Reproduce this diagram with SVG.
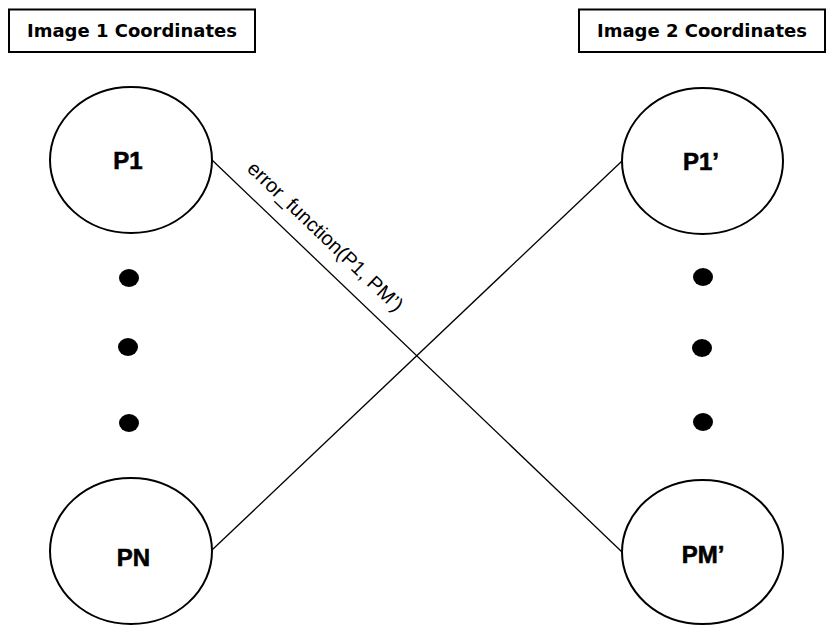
<svg xmlns="http://www.w3.org/2000/svg" width="829" height="635" viewBox="0 0 829 635">
<style>
.box{fill:#fff;stroke:#000;stroke-width:2}
.hdr{font-family:"DejaVu Sans","Liberation Sans",sans-serif;font-weight:bold;font-size:18px;fill:#000}
.node{fill:#fff;stroke:#000;stroke-width:2}
.lbl{font-family:"Liberation Sans",Arial,sans-serif;font-weight:bold;font-size:24px;fill:#000;text-anchor:middle;stroke:#000;stroke-width:0.6}
.dot{fill:#000}
.edge{stroke:#000;stroke-width:1.3;fill:none}
.elbl{font-family:"Liberation Sans",Arial,sans-serif;font-size:20px;fill:#000;text-anchor:middle}
</style>
<rect width="829" height="635" fill="#fff"/>
<g id="header1"><rect class="box" x="9" y="9.5" width="246" height="42.5"/><text class="hdr" x="27" y="37" textLength="210" lengthAdjust="spacingAndGlyphs">Image 1 Coordinates</text></g>
<g id="header2"><rect class="box" x="579" y="9.5" width="246" height="42.5"/><text class="hdr" x="597" y="37" textLength="210" lengthAdjust="spacingAndGlyphs">Image 2 Coordinates</text></g>
<g id="connectors">
<line class="edge" x1="212" y1="160" x2="622" y2="552"/>
<line class="edge" x1="212" y1="550" x2="622" y2="161"/>
<text class="elbl" transform="translate(325,237) rotate(43.7)" y="6">error_function(P1, PM’)</text>
</g>
<g id="P1"><ellipse class="node" cx="131" cy="160" rx="81" ry="73"/><text class="lbl" x="128" y="169">P1</text></g>
<g id="PN"><ellipse class="node" cx="131" cy="551" rx="81" ry="73"/><text class="lbl" x="133.5" y="566">PN</text></g>
<g id="P1p"><ellipse class="node" cx="702.5" cy="161" rx="80.5" ry="73"/><text class="lbl" x="701" y="170">P1’</text></g>
<g id="PMp"><ellipse class="node" cx="702.5" cy="552" rx="80.5" ry="72"/><text class="lbl" x="703" y="563">PM’</text></g>
<g id="dots-left"><ellipse class="dot" cx="129" cy="278" rx="10" ry="9"/><ellipse class="dot" cx="128" cy="347" rx="10" ry="9"/><ellipse class="dot" cx="129" cy="423" rx="10" ry="9"/></g>
<g id="dots-right"><ellipse class="dot" cx="703" cy="277" rx="10" ry="9"/><ellipse class="dot" cx="702" cy="348" rx="10" ry="9"/><ellipse class="dot" cx="703" cy="422" rx="10" ry="9"/></g>
</svg>
